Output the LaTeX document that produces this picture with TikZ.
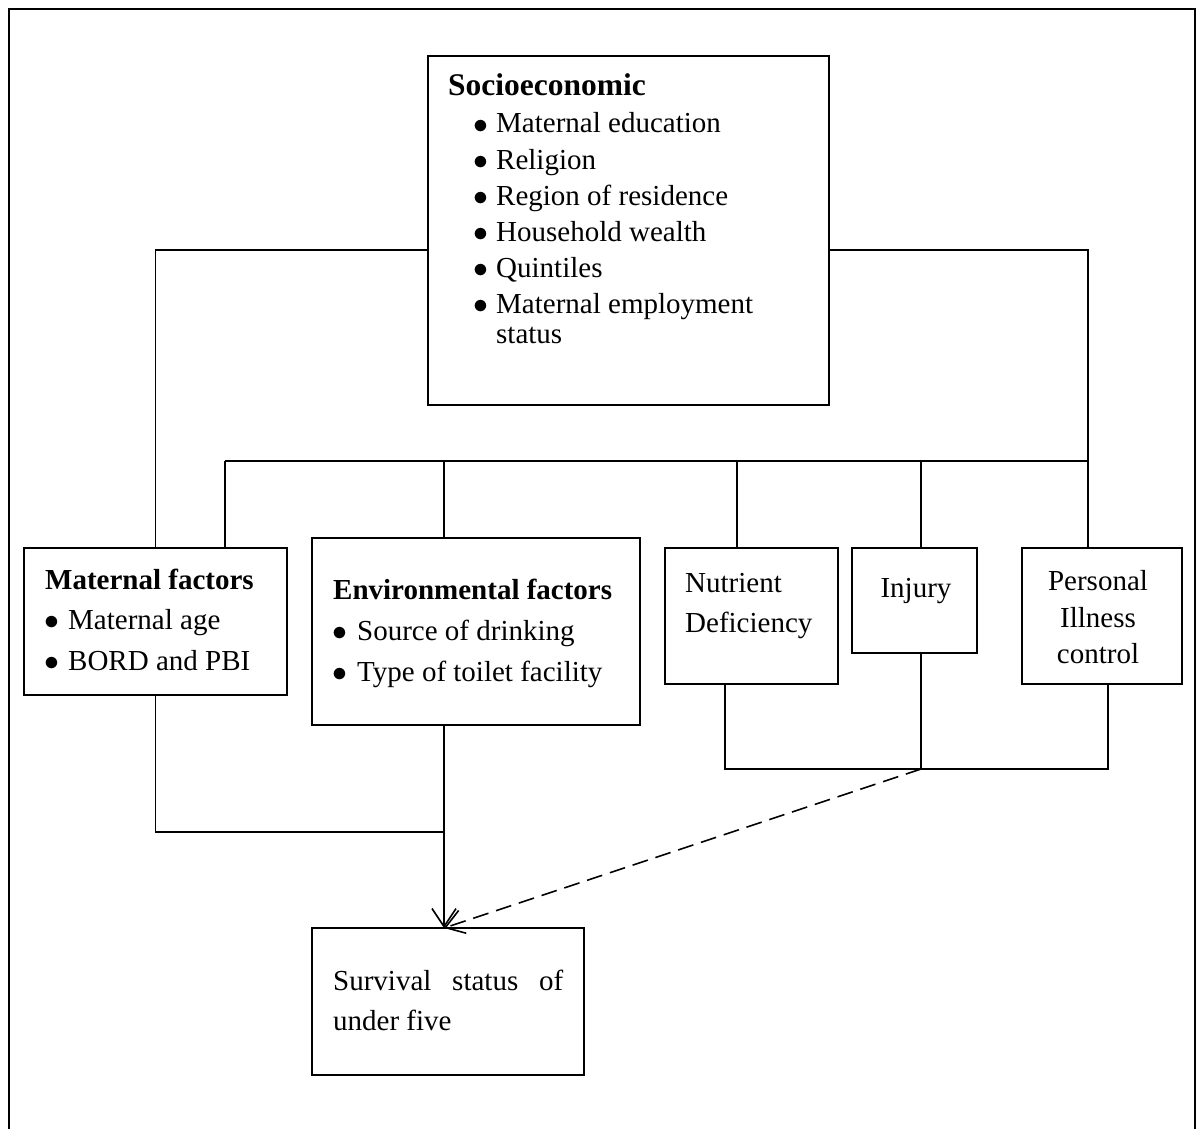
\documentclass[tikz,border=0pt]{standalone}
\usepackage{fontspec}
\setmainfont{Liberation Serif}
\usetikzlibrary{arrows.meta,calc}
\newcommand{\bigbul}{\raisebox{-0.5pt}{\scalebox{1.2}{$\bullet$}}}
\begin{document}
\begin{tikzpicture}[x=1pt,y=-1pt,
  ln/.style={line width=1.6pt},
  box/.style={draw,line width=1.6pt,anchor=north west,inner sep=0pt,outer sep=0pt},
  txt/.style={anchor=base west,inner sep=0pt,font=\fontsize{29}{34}\selectfont},
  ctxt/.style={anchor=base,inner sep=0pt,font=\fontsize{29}{34}\selectfont},
  hd/.style={anchor=base west,inner sep=0pt,font=\fontsize{29}{34}\selectfont\bfseries},
  arr/.style={-{Straight Barb[length=18pt,width=24pt,line width=1.6pt]}}]
\useasboundingbox (0,0) rectangle (1202,1129);
% outer frame (open at bottom)
\draw[line width=2.6pt] (9,1140) -- (9,9) -- (1195,9) -- (1195,1140);
% boxes
\node[box,minimum width=401pt,minimum height=349pt] (socio) at (428,56) {};
\node[box,minimum width=263pt,minimum height=147pt] (mat) at (24,548) {};
\node[box,minimum width=328pt,minimum height=187pt] (env) at (312,538) {};
\node[box,minimum width=173pt,minimum height=136pt] (nut) at (665,548) {};
\node[box,minimum width=125pt,minimum height=105pt] (inj) at (852,548) {};
\node[box,minimum width=160pt,minimum height=136pt] (pers) at (1022,548) {};
\node[box,minimum width=272pt,minimum height=147pt] (surv) at (312,928) {};
% texts: socioeconomic
\node[hd,font=\fontsize{31.5}{34}\selectfont\bfseries] (sh) at (448,96) {Socioeconomic};
\foreach \t [count=\i] in {Maternal education,Religion,Region of residence,Household wealth,Quintiles,Maternal employment}{
  \node[txt] (sbul\i) at (473,{133+36*(\i-1)}) {\bigbul};
  \node[txt] (sl\i) at (496,{133+36*(\i-1)}) {\t};
}
\node[txt] (sl7) at (496,343) {status};
% maternal
\node[hd] (mh) at (45,589) {Maternal factors};
\node[txt] (mb1) at (44,629) {\bigbul};
\node[txt] (ml1) at (68,629) {Maternal age};
\node[txt] (mb2) at (44,670) {\bigbul};
\node[txt] (ml2) at (68,670) {BORD and PBI};
% environmental
\node[hd] (eh) at (333,599) {Environmental factors};
\node[txt] (eb1) at (332,640) {\bigbul};
\node[txt] (el1) at (357,640) {Source of drinking};
\node[txt] (eb2) at (332,681) {\bigbul};
\node[txt] (el2) at (357,681) {Type of toilet facility};
% nutrient
\node[txt] (n1) at (685,592) {Nutrient};
\node[txt] (n2) at (685,632) {Deficiency};
% injury
\node[ctxt] (i1) at (916,597) {Injury};
% personal
\node[ctxt] (p1) at (1098,590) {Personal};
\node[ctxt] (p2) at (1098,627) {Illness};
\node[ctxt] (p3) at (1098,663) {control};
% survival
\node[txt] (s1) at (333,990) {\makebox[230pt][s]{Survival status of}};
\node[txt] (s2) at (333,1030) {under five};
% junction coordinates
\coordinate (jl) at (0,250);
\coordinate (bus) at (0,461);
\coordinate (xr) at (1088,0);
\coordinate (xm) at (225,0);
\coordinate (xe) at (444,0);
\coordinate (xn) at (737,0);
\coordinate (xi) at (921,0);
\coordinate (xnb) at (725,0);
\coordinate (xpb) at (1108,0);
\coordinate (ymb) at (0,832);
\coordinate (ynb) at (0,769);
% connectors from socioeconomic
\draw[ln] (socio.west |- jl) -| (mat.north);
\draw[ln] (socio.east |- jl) -| (xr |- pers.north);
\draw[ln] (xm |- bus) -- (xr |- bus);
\draw[ln] (xm |- bus) -- (xm |- mat.north);
\draw[ln] (xe |- bus) -- (xe |- env.north);
\draw[ln] (xn |- bus) -- (xn |- nut.north);
\draw[ln] (xi |- bus) -- (xi |- inj.north);
% lower connectors
\draw[ln] (mat.south) |- (xe |- ymb);
\draw[ln,arr] (xe |- env.south) -- (xe |- surv.north);
\draw[ln] (xnb |- nut.south) |- (xpb |- ynb) -- (xpb |- pers.south);
\draw[ln] (xi |- inj.south) -- (xi |- ynb);
\draw[ln,arr,dash pattern=on 16pt off 8pt] (xi |- ynb) -- (xe |- surv.north);
\end{tikzpicture}
\end{document}
